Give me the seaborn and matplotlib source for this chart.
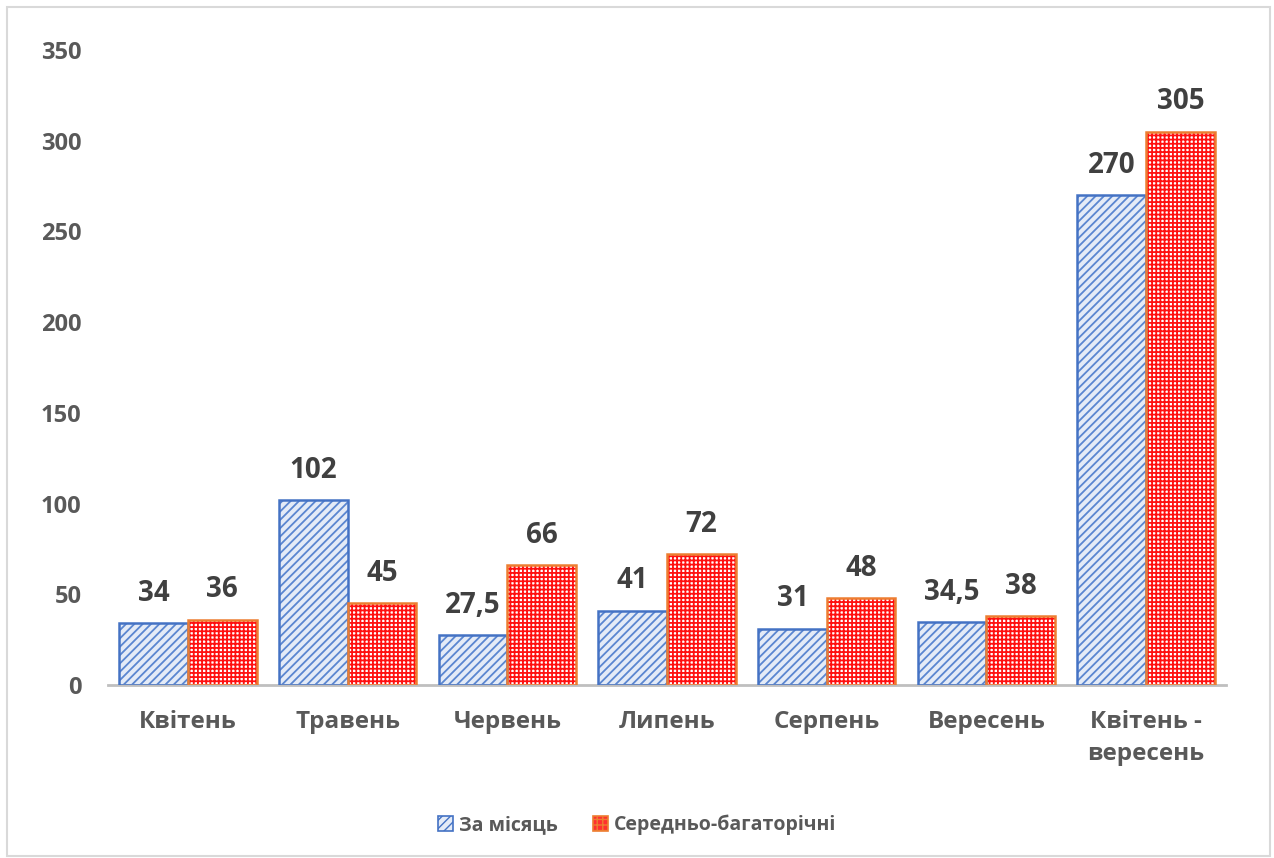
import matplotlib
matplotlib.use("Agg")
import matplotlib.pyplot as plt
from matplotlib.patches import Rectangle, Patch
import seaborn as sns
import pandas as pd

categories = ["Квітень", "Травень", "Червень", "Липень", "Серпень", "Вересень", "Квітень -\nвересень"]
monthly = [34, 102, 27.5, 41, 31, 34.5, 270]
longterm = [36, 45, 66, 72, 48, 38, 305]
monthly_labels = ["34", "102", "27,5", "41", "31", "34,5", "270"]
longterm_labels = ["36", "45", "66", "72", "48", "38", "305"]
series_names = ["За місяць", "Середньо-багаторічні"]
yticks = [0, 50, 100, 150, 200, 250, 300, 350]

sns.set_theme(style="white")
plt.rcParams["font.family"] = ["Open Sans", "DejaVu Sans"]

df = pd.DataFrame({
    "cat": categories * 2,
    "val": monthly + longterm,
    "series": [series_names[0]] * len(categories) + [series_names[1]] * len(categories),
})

fig = plt.figure(figsize=(12.74, 8.58), dpi=100)
ax = fig.add_axes([108 / 1274, 1 - 685 / 858, (1226 - 108) / 1274, (685 - 50) / 858])

blue_face, blue_edge, blue_hatch = "#e4ebf7", "#4472c4", "#5a86d0"
red_face, red_edge, red_hatch = "#ffffff", "#ed7d31", "#ff1010"

sns.barplot(data=df, x="cat", y="val", hue="series", palette=[blue_face, red_face],
            width=0.86, gap=0, ax=ax, legend=False, saturation=1)

nc = len(categories)
patches = ax.patches[:2 * nc]
for i, p in enumerate(patches):
    x, w, h = p.get_x(), p.get_width(), p.get_height()
    p.set_linewidth(0)
    if i < nc:
        with plt.rc_context({"hatch.linewidth": 1.3}):
            hp = Rectangle((x, 0), w, h, facecolor="none", edgecolor=blue_hatch,
                           hatch="////", linewidth=0, zorder=2.5)
        ax.add_patch(hp)
        ax.add_patch(Rectangle((x, 0), w, h, fill=False, edgecolor=blue_edge, linewidth=1.8, zorder=3))
    else:
        with plt.rc_context({"hatch.linewidth": 1.3}):
            hp = Rectangle((x, 0), w, h, facecolor="none", edgecolor=red_hatch,
                           hatch="++++", linewidth=0, zorder=2.5)
        ax.add_patch(hp)
        ax.add_patch(Rectangle((x, 0), w, h, fill=False, edgecolor=red_edge, linewidth=1.8, zorder=3))

label_color = "#404040"
for i in range(nc):
    pb = patches[i]
    pr = patches[nc + i]
    ax.annotate(monthly_labels[i], (pb.get_x() + pb.get_width() / 2, pb.get_height()),
                xytext=(0, 11), textcoords="offset points", ha="center", va="bottom",
                fontsize=20, fontweight="bold", color=label_color)
    ax.annotate(longterm_labels[i], (pr.get_x() + pr.get_width() / 2, pr.get_height()),
                xytext=(0, 11), textcoords="offset points", ha="center", va="bottom",
                fontsize=20, fontweight="bold", color=label_color)

ax.set_ylim(0, 350)
ax.set_xlim(-0.5, nc - 0.5)
ax.set_yticks(yticks)
ax.set_yticklabels([str(t) for t in yticks], fontsize=17, fontweight="bold", color="#595959")
ax.set_xticks(range(nc))
ax.set_xticklabels(categories, fontsize=17.5, fontweight="bold", color="#595959", linespacing=1.45)
ax.tick_params(axis="x", length=0, pad=18)
ax.tick_params(axis="y", length=0, pad=19)
ax.set_xlabel("")
ax.set_ylabel("")
for s in ["top", "right", "left"]:
    ax.spines[s].set_visible(False)
ax.spines["bottom"].set_color("#bfbfbf")
ax.spines["bottom"].set_linewidth(2)
ax.grid(False)

with plt.rc_context({"hatch.linewidth": 1.2}):
    handles = [
        Patch(facecolor=blue_face, edgecolor=blue_edge, hatch="////", linewidth=1.2),
        Patch(facecolor="#ff3030", edgecolor=red_edge, hatch="+++", linewidth=1.2),
    ]
leg = fig.legend(handles, series_names, loc="center", bbox_to_anchor=(0.5, 1 - 825 / 858),
                 ncol=2, frameon=False, fontsize=14, handlelength=0.8, handleheight=0.8,
                 handletextpad=0.3, columnspacing=1.8)
for t in leg.get_texts():
    t.set_fontweight("bold")
    t.set_color("#595959")

fig.add_artist(Rectangle((7 / 1274, 2 / 858), (1270 - 7) / 1274, (851 - 2) / 858,
                         transform=fig.transFigure, fill=False, edgecolor="#d9d9d9", linewidth=1.5))

fig.savefig("out.png", dpi=100, facecolor="white")
